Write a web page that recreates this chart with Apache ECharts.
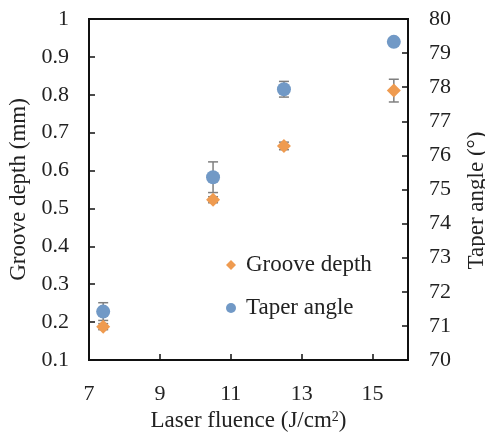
<!DOCTYPE html>
<html>
<head>
<meta charset="utf-8">
<script src="https://cdn.jsdelivr.net/npm/echarts@6/dist/echarts.min.js"></script>
<style>
  html, body { margin: 0; padding: 0; background: #fff; }
  #chart { width: 485px; height: 440px; }
</style>
</head>
<body>
<div id="chart"></div>
<script>
// 数据
var fluence = [7.4, 10.5, 12.5, 15.6];
var grooveDepth = [0.188, 0.523, 0.665, 0.811];
var grooveErr = [0.008, 0.008, 0.01, 0.03];
var taperAngle = [71.42, 75.36, 77.94, 79.33];
var taperErr = [0.26, 0.45, 0.23, 0.1];
var xTicks = [7, 9, 11, 13, 15];

var font = 'Liberation Serif';
var orange = '#EF9B50';
var blue = '#7199C6';

function pairs(xs, ys, es) {
  return xs.map(function (x, i) { return es ? [x, ys[i], es[i]] : [x, ys[i]]; });
}

// 误差线
function errorBar(params, api) {
  var x = api.value(0), y = api.value(1), e = api.value(2);
  var hi = api.coord([x, y + e]);
  var lo = api.coord([x, y - e]);
  var w = 5;
  var style = { stroke: '#7f7f7f', lineWidth: 1.5 };
  return {
    type: 'group',
    children: [
      { type: 'line', shape: { x1: hi[0], y1: hi[1], x2: lo[0], y2: lo[1] }, style: style },
      { type: 'line', shape: { x1: hi[0] - w, y1: hi[1], x2: hi[0] + w, y2: hi[1] }, style: style },
      { type: 'line', shape: { x1: lo[0] - w, y1: lo[1], x2: lo[0] + w, y2: lo[1] }, style: style }
    ]
  };
}

var chart = echarts.init(document.getElementById('chart'));

var axisText = { color: '#222', fontFamily: font, fontSize: 22 };
var nameText = { color: '#222', fontFamily: font, fontSize: 23 };
var axisLine = { lineStyle: { color: '#111', width: 2 } };
var axisTick = { inside: true, length: 6, lineStyle: { color: '#111', width: 1.5 } };

var option = {
  animation: false,
  grid: {
    left: 89, right: 77, top: 19, bottom: 80,
    outerBoundsMode: 'none',
    containLabel: false,
    show: true, borderColor: '#111', borderWidth: 2
  },
  legend: {
    orient: 'vertical',
    left: 226, top: 253,
    padding: 0,
    itemGap: 19,
    itemWidth: 10, itemHeight: 10,
    textStyle: { fontFamily: font, fontSize: 23, lineHeight: 24, color: '#222', padding: [0, 0, 0, 5] },
    data: ['Groove depth', 'Taper angle']
  },
  xAxis: {
    type: 'value',
    min: 7, max: 16,
    name: 'Laser fluence (J/cm{sup|2})',
    nameLocation: 'middle',
    nameGap: 48,
    nameTextStyle: Object.assign({
      rich: { sup: { fontFamily: font, fontSize: 14, color: '#222', verticalAlign: 'top', padding: [0, 0, 9, 0] } }
    }, nameText),
    axisLine: axisLine,
    axisTick: Object.assign({ customValues: xTicks }, axisTick),
    axisLabel: Object.assign({ customValues: xTicks, margin: 23 }, axisText),
    splitLine: { show: false }
  },
  yAxis: [{
    type: 'value',
    min: 0.1, max: 1, interval: 0.1,
    name: 'Groove depth (mm)',
    nameLocation: 'middle',
    nameGap: 57,
    nameTextStyle: nameText,
    axisLine: axisLine,
    axisTick: axisTick,
    axisLabel: Object.assign({ margin: 20 }, axisText),
    splitLine: { show: false }
  }, {
    type: 'value',
    min: 70, max: 80, interval: 1,
    name: 'Taper angle (°)',
    nameLocation: 'middle',
    nameGap: 57,
    nameTextStyle: Object.assign({ padding: [0, 22, 0, 0] }, nameText),
    axisLine: axisLine,
    axisTick: axisTick,
    axisLabel: Object.assign({ margin: 21 }, axisText),
    splitLine: { show: false }
  }],
  series: [{
    type: 'custom',
    yAxisIndex: 0,
    renderItem: errorBar,
    data: pairs(fluence, grooveDepth, grooveErr),
    z: 1, silent: true
  }, {
    type: 'custom',
    yAxisIndex: 1,
    renderItem: errorBar,
    data: pairs(fluence, taperAngle, taperErr),
    z: 1, silent: true
  }, {
    name: 'Groove depth',
    type: 'scatter',
    yAxisIndex: 0,
    symbol: 'diamond',
    symbolSize: 14,
    itemStyle: { color: orange, opacity: 1 },
    data: pairs(fluence, grooveDepth),
    z: 3
  }, {
    name: 'Taper angle',
    type: 'scatter',
    yAxisIndex: 1,
    symbol: 'circle',
    symbolSize: 14,
    itemStyle: { color: blue, opacity: 1 },
    data: pairs(fluence, taperAngle),
    z: 3
  }]
};

chart.setOption(option);
</script>
</body>
</html>
